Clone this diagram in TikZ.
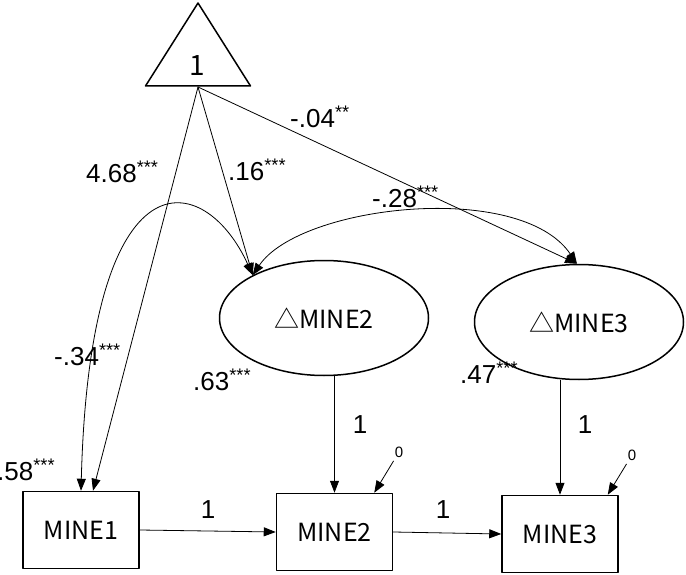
\documentclass[tikz,border=0pt]{standalone}
\usepackage{fontspec}
\setmainfont{Liberation Sans}
\newfontfamily\cjkfont{Noto Sans CJK SC}
\usetikzlibrary{arrows.meta,shapes.geometric}
\newcommand\sig[1]{\textsuperscript{#1}}

\begin{document}
\begin{tikzpicture}[line cap=round,line join=round,>={Triangle[length=12pt,width=9pt]},x=1pt,y=-1pt,
    obs/.style={draw,line width=1.5pt,minimum width=116pt,minimum height=77pt,font=\cjkfont\fontsize{25}{25}\selectfont},
    lat/.style={draw,ellipse,line width=1.5pt,minimum width=209pt,minimum height=115pt,font=\cjkfont\fontsize{25}{25}\selectfont},
    coef/.style={anchor=west,inner sep=0pt,font=\fontsize{26}{26}\selectfont},
    unit/.style={inner sep=0pt,font=\fontsize{26}{26}\selectfont},
    zero/.style={inner sep=1pt,font=\fontsize{15}{15}\selectfont},
    conn/.style={line width=0.8pt,->}]
        \useasboundingbox (0,0) rectangle (686,575);
        % constant
        \draw [line width=1.5pt] (198,3) -- (250.5,86) -- (145.5,86) -- cycle;
        \node [inner sep=0pt,font=\cjkfont\fontsize{28}{28}\selectfont] (tri) at (197,66) {1};
        \coordinate (apex) at (198,87);
        % latent changes and observed scores
        \node [lat] (d2) at (324,318) {△MINE2};
        \node [lat] (d3) at (579,322) {△MINE3};
        \node [obs] (m1) at (81,530) {MINE1};
        \node [obs] (m2) at (334.5,532) {MINE2};
        \node [obs] (m3) at (560,534) {MINE3};
        % means
        \draw [conn] (apex) -- ([xshift=12pt]m1.north);
        \draw [conn] (apex) -- (d2.149);
        \draw [conn] (apex) -- (d3.92);
        % covariances
        \draw [conn,<->] (d2.149) .. controls (205,170) and (90,145) .. (m1.north);
        \draw [conn,<->] (d2.149) .. controls (300,205) and (520,180) .. (d3.92);
        % loadings and autoregression
        \draw [conn] (m2.north |- d2.south) -- (m2.north);
        \draw [conn] (m3.north |- d3.south) -- (m3.north);
        \draw [conn] (m1.east) -- (m2.west);
        \draw [conn] (m2.east) -- (m3.west);
        % residuals
        \node [zero] (z2) at (399,452) {0};
        \node [zero] (z3) at (632,455) {0};
        \draw [conn,shorten <=3pt] (z2) -- ([xshift=-19pt]m2.north east);
        \draw [conn,shorten <=3pt] (z3) -- ([xshift=-11pt]m3.north east);
        % labels
        \node [coef] (c1) at (86,172) {4.68\sig{***}};
        \node [coef] (c2) at (228,170) {.16\sig{***}};
        \node [coef] (c3) at (290,117) {-.04\sig{**}};
        \node [coef] (c4) at (372,197) {-.28\sig{***}};
        \node [coef] (c5) at (54,355) {-.34\sig{***}};
        \node [coef] (v1) at (-3,470) {.58\sig{***}};
        \node [coef] (v2) at (193,380) {.63\sig{***}};
        \node [coef] (v3) at (460,373) {.47\sig{***}};
        \node [unit] (l2) at (360,425) {1};
        \node [unit] (l3) at (585,425) {1};
        \node [unit] (l12) at (208,510) {1};
        \node [unit] (l23) at (443,510) {1};
    \end{tikzpicture}
\end{document}
